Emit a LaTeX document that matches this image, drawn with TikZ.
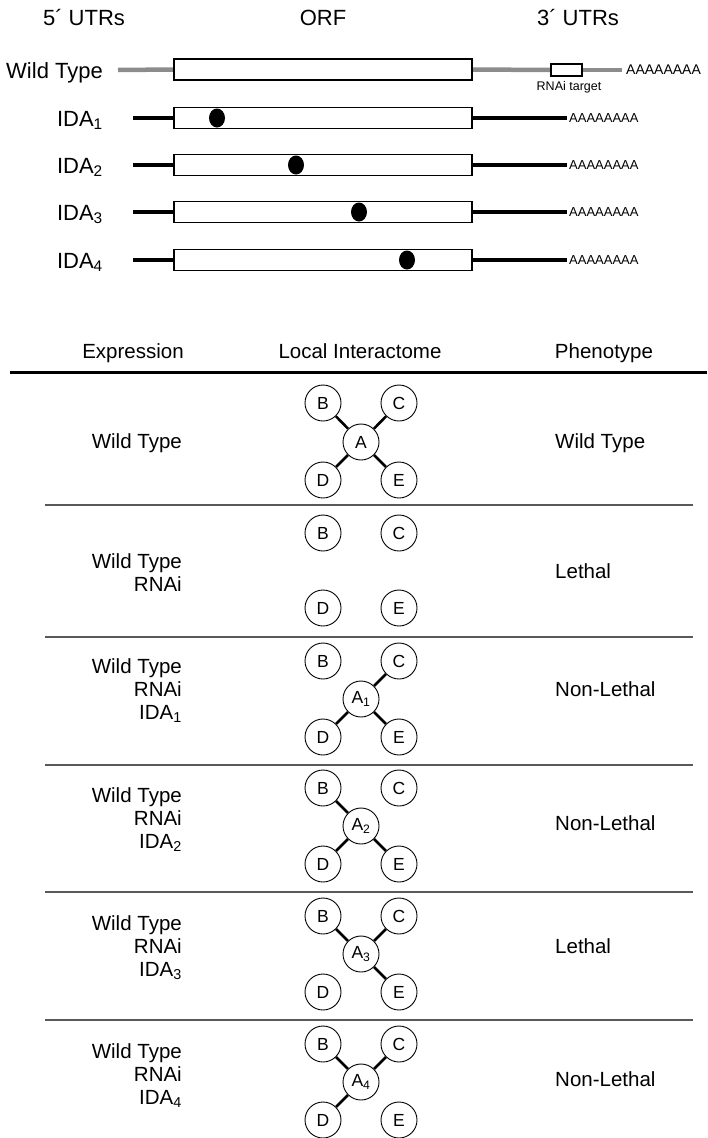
\documentclass[tikz,border=0pt]{standalone}
\usepackage{fontspec}
\setmainfont{Liberation Sans}
\usetikzlibrary{shapes.geometric}
\pgfdeclarelayer{bg}
\pgfsetlayers{bg,main}
\begin{document}
\begin{tikzpicture}[x=1pt,y=-1pt,
  lab/.style={inner sep=0pt, font=\fontsize{20.5}{24}\selectfont},
  biglab/.style={inner sep=0pt, font=\fontsize{22}{26}\selectfont},
  small/.style={inner sep=0pt, font=\fontsize{13}{14}\selectfont},
  prot/.style={circle, draw, line width=0.9pt, minimum size=36pt, inner sep=0pt, font=\fontsize{17.5}{18}\selectfont},
  link/.style={line width=2.6pt},
  orf/.style={draw, line width=1.3pt, fill=white, minimum width=298pt, minimum height=21pt, inner sep=0pt},
  rbox/.style={draw, line width=1.3pt, fill=white, minimum width=31pt, minimum height=12pt, inner sep=0pt},
  utrwt/.style={line width=4.5pt, color=black!45},
  utr/.style={line width=4.5pt, color=black},
  mutdot/.style={ellipse, fill=black, minimum width=16pt, minimum height=19pt, inner sep=0pt},
  rule/.style={line width=1.2pt, color=black!65}]
\useasboundingbox (0,0) rectangle (707,1138);

% column headers (gene structure)
\node[biglab, anchor=base] (h5) at (84,25) {5´ UTRs};
\node[biglab, anchor=base] (horf) at (323,25) {ORF};
\node[biglab, anchor=base] (h3) at (578,25) {3´ UTRs};

% wild type transcript
\node[biglab, anchor=base east] (wt) at (103,78) {Wild Type};
\coordinate (wtl) at (118,70);
\node[orf] (wtorf) at (323,69.5) {};
\node[rbox] (rnai) at (566.5,70) {};
\coordinate (wtr) at (622,70);
\begin{pgfonlayer}{bg}
\draw[utrwt] (wtl) -- (wtorf.west);
\draw[utrwt] (wtorf.east) -- (rnai.west);
\draw[utrwt] (rnai.east) -- (wtr);
\end{pgfonlayer}
\node[inner sep=0pt, font=\fontsize{14}{16}\selectfont, anchor=west] (wtpa) at (626,70) {AAAAAAAA};
\node[inner sep=0pt, font=\fontsize{12.5}{14}\selectfont] (rnlab) at (569,87) {RNAi target};

% IDA transcripts
\foreach \i/\y/\d in {1/118/217, 2/165/296, 3/212/359, 4/260/407} {
  \node[biglab, anchor=base east] (ida\i) at (103,\y+8) {IDA\textsubscript{\i}};
  \coordinate (idal\i) at (133,\y);
  \node[orf] (idaorf\i) at (323,\y) {};
  \coordinate (idar\i) at (567,\y);
  \node[small, anchor=west] (idapa\i) at (569,\y) {AAAAAAAA};
  \node[mutdot] (mut\i) at (\d,\y) {};
  \begin{pgfonlayer}{bg}
  \draw[utr] (idal\i) -- (idaorf\i.west);
  \draw[utr] (idaorf\i.east) -- (idar\i);
  \end{pgfonlayer}
}

% table header
\node[lab, anchor=base] (hexp) at (133,358) {Expression};
\node[lab, anchor=base] (hloc) at (360,358) {Local Interactome};
\node[lab, anchor=base] (hphe) at (604,358) {Phenotype};
\coordinate (tl) at (10,372);
\coordinate (tr) at (707,372);
\draw[line width=3pt] (tl) -- (tr);

% separators
\foreach \k/\y in {1/505, 2/637, 3/765, 4/892, 5/1020} {
  \coordinate (sl\k) at (45,\y);
  \coordinate (sr\k) at (693,\y);
  \draw[rule] (sl\k) -- (sr\k);
}

% interactome satellites
\foreach \r/\yb/\yd in {1/403/480, 2/533/608, 3/661/737, 4/788/864, 5/916/992, 6/1044/1120} {
  \node[prot] (b\r) at (323,\yb) {B};
  \node[prot] (c\r) at (399,\yb) {C};
  \node[prot] (d\r) at (323,\yd) {D};
  \node[prot] (e\r) at (399,\yd) {E};
}
\node[prot] (a1) at (361,442) {A};
\node[prot] (a3) at (361,699) {A\textsubscript{1}};
\node[prot] (a4) at (361,826) {A\textsubscript{2}};
\node[prot] (a5) at (361,954) {A\textsubscript{3}};
\node[prot] (a6) at (361,1082) {A\textsubscript{4}};

\draw[link] (a1) -- (b1); \draw[link] (a1) -- (c1); \draw[link] (a1) -- (d1); \draw[link] (a1) -- (e1);
\draw[link] (a3) -- (c3); \draw[link] (a3) -- (d3); \draw[link] (a3) -- (e3);
\draw[link] (a4) -- (b4); \draw[link] (a4) -- (d4); \draw[link] (a4) -- (e4);
\draw[link] (a5) -- (b5); \draw[link] (a5) -- (c5); \draw[link] (a5) -- (e5);
\draw[link] (a6) -- (b6); \draw[link] (a6) -- (c6); \draw[link] (a6) -- (d6);

% expression column
\node[lab, anchor=base east] (x1) at (182,448) {Wild Type};
\node[lab, anchor=base east] (x2a) at (182,568) {Wild Type};
\node[lab, anchor=base east] (x2b) at (182,591) {RNAi};
\foreach \r/\y/\n in {3/666/1, 4/795/2, 5/923/3, 6/1051/4} {
  \node[lab, anchor=base east] (x\r a) at (182,\y+7) {Wild Type};
  \node[lab, anchor=base east] (x\r b) at (182,\y+30) {RNAi};
  \node[lab, anchor=base east] (x\r c) at (182,\y+53) {IDA\textsubscript{\n}};
}

% phenotype column
\node[lab, anchor=base west] (p1) at (555,448) {Wild Type};
\node[lab, anchor=base west] (p2) at (555,578) {Lethal};
\node[lab, anchor=base west] (p3) at (555,696) {Non-Lethal};
\node[lab, anchor=base west] (p4) at (555,830) {Non-Lethal};
\node[lab, anchor=base west] (p5) at (555,953) {Lethal};
\node[lab, anchor=base west] (p6) at (555,1086) {Non-Lethal};
\end{tikzpicture}
\end{document}
